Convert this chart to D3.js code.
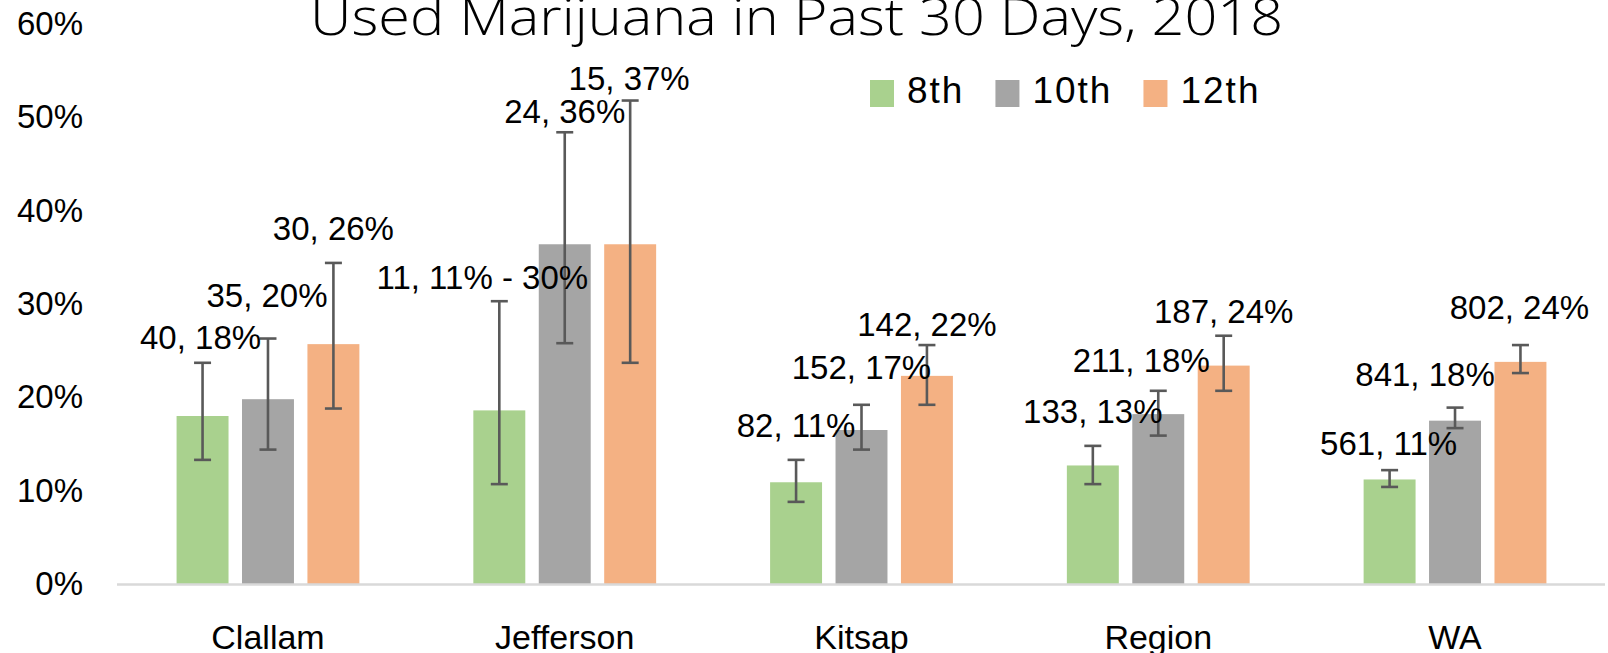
<!DOCTYPE html>
<html>
<head>
<meta charset="utf-8">
<script src="https://cdn.jsdelivr.net/npm/d3@7"></script>
<style>
  html, body { margin: 0; padding: 0; background: #fff; overflow: hidden; }
  svg { display: block; }
</style>
</head>
<body>
<svg id="chart" width="1608" height="653"></svg>
<script>
// ---------- data ----------
const categories = ["Clallam", "Jefferson", "Kitsap", "Region", "WA"];
const seriesNames = ["8th", "10th", "12th"];
const seriesColors = ["#a9d18e", "#a5a5a5", "#f4b183"];

const values8  = [0.180, 0.186, 0.109, 0.127, 0.112];
const values10 = [0.198, 0.364, 0.165, 0.182, 0.175];
const values12 = [0.257, 0.364, 0.223, 0.234, 0.238];

const errLow8   = [0.133, 0.107, 0.088, 0.107, 0.104];
const errHigh8  = [0.237, 0.303, 0.133, 0.148, 0.122];
const errLow10  = [0.144, 0.258, 0.144, 0.159, 0.167];
const errHigh10 = [0.263, 0.484, 0.192, 0.207, 0.189];
const errLow12  = [0.188, 0.237, 0.192, 0.207, 0.226];
const errHigh12 = [0.344, 0.518, 0.256, 0.266, 0.256];

const labels8  = ["40, 18%", "11, 11% - 30%", "82, 11%", "133, 13%", "561, 11%"];
const labels10 = ["35, 20%", "24, 36%", "152, 17%", "211, 18%", "841, 18%"];
const labels12 = ["30, 26%", "15, 37%", "142, 22%", "187, 24%", "802, 24%"];

const yTicks = [0, 0.1, 0.2, 0.3, 0.4, 0.5, 0.6];
const titleText = "Used Marijuana in Past 30 Days, 2018";

// ---------- layout (label nudges relative to bar centre / error-bar top) ----------
const labelOffsets = [
  [[-2, -14], [-17, -12], [0, -23], [0, -23], [-1, -15]],
  [[-1, -32], [0, -9],    [0, -26], [-17, -19], [-30, -22]],
  [[0, -23],  [-1, -11],  [0, -9],  [0, -13], [-1, -26]]
];

const series = [
  { name: seriesNames[0], color: seriesColors[0], values: values8,  lo: errLow8,  hi: errHigh8,  labels: labels8 },
  { name: seriesNames[1], color: seriesColors[1], values: values10, lo: errLow10, hi: errHigh10, labels: labels10 },
  { name: seriesNames[2], color: seriesColors[2], values: values12, lo: errLow12, hi: errHigh12, labels: labels12 }
];

const FONT = "'Liberation Sans', Arial, sans-serif";
const svg = d3.select("#chart");

const x0 = d3.scaleBand().domain(categories).range([119.6, 1603.4]).paddingInner(0.384).paddingOuter(0.192);
const x1 = d3.scaleBand().domain(seriesNames).range([0, x0.bandwidth()]).paddingInner(0.206).paddingOuter(0);
const y = d3.scaleLinear().domain([0, 0.6]).range([584, 24]);

// title
svg.append("text")
  .attr("x", 310).attr("y", 35)
  .attr("textLength", 973).attr("lengthAdjust", "spacingAndGlyphs")
  .style("font-family", "'Open Sans', 'Liberation Sans', sans-serif")
  .style("font-weight", 300)
  .style("font-size", "52px")
  .style("fill", "#000")
  .text(titleText);

// y axis
const yAxis = svg.append("g")
  .attr("transform", "translate(83,0)")
  .call(d3.axisLeft(y).tickValues(yTicks).tickFormat(d3.format(".0%")).tickSize(0).tickPadding(0));
yAxis.select(".domain").remove();
yAxis.selectAll("text").style("font-family", FONT).style("font-size", "33px").style("fill", "#000");

// bars
const groups = svg.append("g").selectAll("g")
  .data(categories)
  .join("g")
  .attr("transform", d => `translate(${x0(d)},0)`);

series.forEach((s, si) => {
  groups.append("rect")
    .attr("x", x1(s.name))
    .attr("width", x1.bandwidth())
    .attr("y", (d, i) => y(s.values[i]))
    .attr("height", (d, i) => y(0) - y(s.values[i]))
    .attr("fill", s.color);
});

// axis line
const xAxis = svg.append("g")
  .attr("transform", `translate(0,${y(0)})`)
  .call(d3.axisBottom(x0).tickSize(0).tickPadding(0));
xAxis.select(".domain").remove();
xAxis.selectAll("text")
  .attr("y", 0).attr("dy", 0)
  .attr("transform", "translate(0,65)")
  .style("font-family", FONT).style("font-size", "34px").style("fill", "#000");
svg.append("line")
  .attr("x1", 117).attr("x2", 1605)
  .attr("y1", y(0) + 0.5).attr("y2", y(0) + 0.5)
  .attr("stroke", "#d9d9d9").attr("stroke-width", 2.6);

// error bars
const capW = 8.5;
series.forEach((s, si) => {
  const eg = groups.append("g").attr("stroke", "#595959").attr("stroke-width", 2.6);
  const cx = x1(s.name) + x1.bandwidth() / 2;
  eg.append("line").attr("x1", cx).attr("x2", cx)
    .attr("y1", (d, i) => y(s.hi[i])).attr("y2", (d, i) => y(s.lo[i]));
  eg.append("line").attr("x1", cx - capW).attr("x2", cx + capW)
    .attr("y1", (d, i) => y(s.hi[i])).attr("y2", (d, i) => y(s.hi[i]));
  eg.append("line").attr("x1", cx - capW).attr("x2", cx + capW)
    .attr("y1", (d, i) => y(s.lo[i])).attr("y2", (d, i) => y(s.lo[i]));
});

// data labels
series.forEach((s, si) => {
  const cx = x1(s.name) + x1.bandwidth() / 2;
  groups.append("text")
    .attr("x", (d, i) => cx + labelOffsets[si][i][0])
    .attr("y", (d, i) => y(s.hi[i]) + labelOffsets[si][i][1])
    .attr("text-anchor", "middle")
    .style("font-family", FONT).style("font-size", "33px").style("fill", "#000")
    .text((d, i) => s.labels[i]);
});

// legend
const legend = svg.append("g");
let lx = 870;
series.forEach(s => {
  legend.append("rect").attr("x", lx).attr("y", 80).attr("width", 24).attr("height", 27).attr("fill", s.color);
  const t = legend.append("text")
    .attr("x", lx + 37).attr("y", 103)
    .style("font-family", FONT).style("font-size", "37px").style("letter-spacing", "2px").style("fill", "#000")
    .text(s.name);
  lx = lx + 37 + t.node().getComputedTextLength() + 31;
});
</script>
</body>
</html>
